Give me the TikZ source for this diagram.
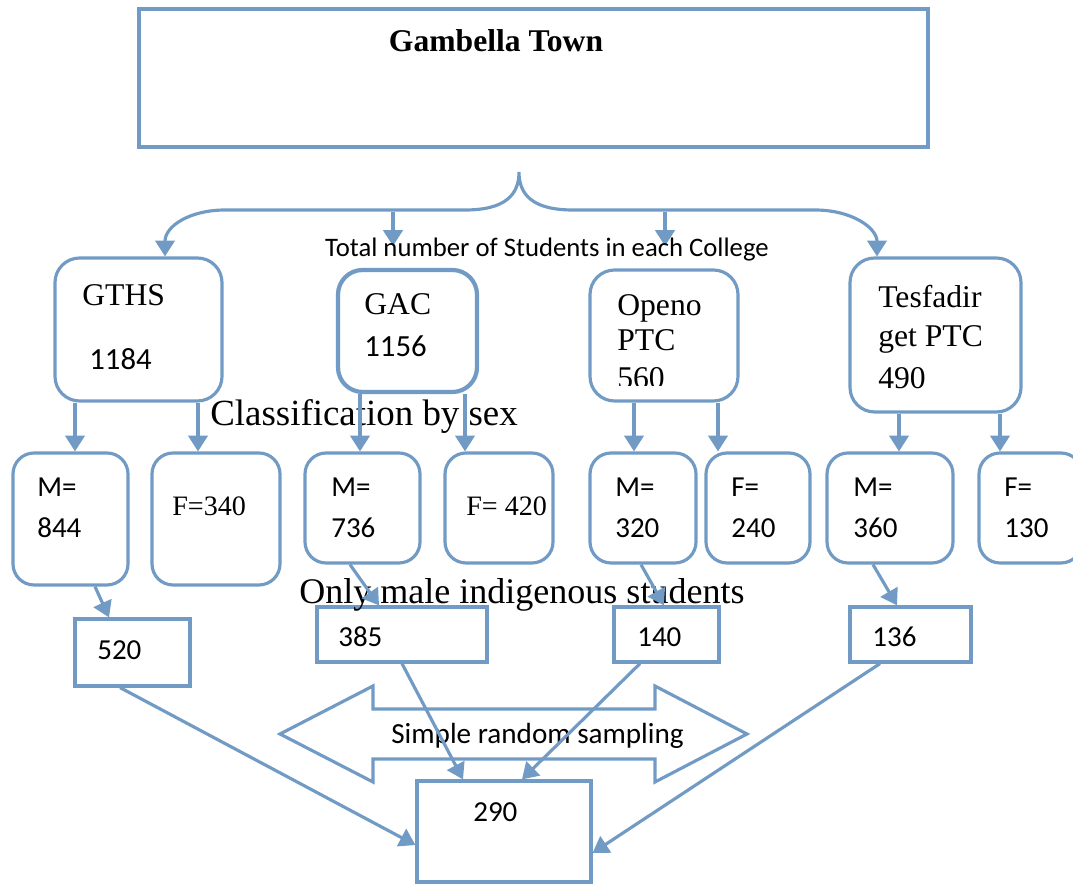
\documentclass[tikz,border=0pt]{standalone}
\usepackage{fontspec}
\setmainfont{Liberation Serif}
\newfontfamily\calib{Carlito}
\usetikzlibrary{arrows.meta}
\usetikzlibrary{fit}
\usetikzlibrary{calc}
\usepackage{xcolor}
\definecolor{boxblue}{RGB}{113,155,196}

\tikzset{
  rbox/.style={draw=boxblue, line width=1.8pt, rounded corners=12pt, inner sep=0pt},
  sbox/.style={draw=boxblue, line width=1.8pt, inner sep=0pt},
  arr/.style={draw=boxblue, line width=1.8pt, -{Triangle[width=11pt,length=9pt]}},
  tnr/.style={inner sep=0pt, anchor=west, text height=11.9pt, text depth=0pt, font=\fontsize{18}{20}\selectfont},
  tnrs/.style={inner sep=0pt, anchor=west, text height=10.6pt, text depth=0pt, font=\fontsize{16}{18}\selectfont},
  cal/.style={inner sep=0pt, anchor=west, text height=10.6pt, text depth=0pt, font=\calib\fontsize{16.5}{18}\selectfont},
  calb/.style={inner sep=0pt, anchor=west, text height=11.3pt, text depth=0pt, font=\calib\fontsize{17.5}{19}\selectfont},
}

\begin{document}
\begin{tikzpicture}[x=0.02cm, y=-0.02cm]

      \useasboundingbox (0,0) rectangle (1073,884);

      % Town
      \node[sbox, fit={(139,9) (928,147)}] (town) {};
      \node[inner sep=0pt, text height=11.9pt, text depth=0pt, font=\bfseries\fontsize{18}{20}\selectfont] (townname) at (496,41) {Gambella Town};

      % Colleges
      \node[rbox, rounded corners=14pt, fit={(55,258) (222,401)}] (gths) {};
      \node[rbox, rounded corners=14pt, line width=2.4pt, fit={(338,270) (477,392)}] (gac) {};
      \node[rbox, rounded corners=14pt, fit={(590,270) (738,401)}] (openo) {};
      \node[rbox, rounded corners=14pt, fit={(850,258) (1021,412)}] (tesf) {};

      \node[tnr] (gthsname) at (82,295) {GTHS};
      \node[calb] (gthsnum) at (89,360) {1184};
      \node[tnr] (gacname) at (364,304) {GAC};
      \node[calb] (gacnum) at (364,347) {1156};
      \node[tnr] (openoname) at (617,305) {Openo};
      \node[tnr] (openoptc) at (617,340) {PTC};
      \begin{scope}
        \clip (590,270) rectangle (738,386);
        \node[tnr] (openonum) at (617,378) {560};
      \end{scope}
      \node[tnr] (tesfname) at (878,297) {Tesfadir};
      \node[tnr] (tesfptc) at (878,336) {get PTC};
      \node[tnr] (tesfnum) at (878,378) {490};

      % Brace
      \draw[arr, {Triangle[width=11pt,length=9pt]}-{Triangle[width=11pt,length=9pt]}]
        (gths.north -| 165,0) .. controls (165,226) and (190,210) .. (225,210)
        -- (465,210) .. controls (505,210) and (519,195) .. (519,172)
        .. controls (519,195) and (533,210) .. (573,210)
        -- (815,210) .. controls (852,210) and (877,228) .. (tesf.north -| 877,0);
      \coordinate (b1) at (393,212);
      \coordinate (b1e) at (393,246);
      \coordinate (b2) at (665,212);
      \coordinate (b2e) at (665,246);
      \draw[arr] (b1) -- (b1e);
      \draw[arr] (b2) -- (b2e);
      \node[inner sep=0pt, font=\calib\fontsize{15.2}{17}\selectfont] (total) at (547,250) {Total number of Students in each College};

      % Sex
      \foreach \n/\l/\r/\b in {m1/13/128/585, f1/152/280/585, m2/305/420/563, f2/445/553/563,
                               m3/590/696/563, f3/706/810/563, m4/827/953/563, f4/979/1082/563}
      {
        \node[rbox, fit={(\l,453) (\r,\b)}] (\n) {};
      }
      \node[inner sep=0pt, anchor=west, text height=13.9pt, text depth=0pt, font=\fontsize{21}{23}\selectfont] (sexlabel) at (210,413) {Classification by sex};

      \foreach \a/\b/\x in {gths/m1/75, gths/f1/198, gac/m2/360, gac/f2/465,
                            openo/m3/634, openo/f3/718, tesf/m4/899, tesf/f4/1000}
      {
        \draw[arr] (\a.south -| \x,0) -- (\b.north -| \x,0);
      }

      \node[cal] (m1a) at (37,487) {M=};
      \node[cal] (m1b) at (37,528) {844};
      \node[tnrs] (f1a) at (172,506) {F=340};
      \node[cal] (m2a) at (331,487) {M=};
      \node[cal] (m2b) at (331,528) {736};
      \node[tnrs] (f2a) at (466,506) {F= 420};
      \node[cal] (m3a) at (615,487) {M=};
      \node[cal] (m3b) at (615,528) {320};
      \node[cal] (f3a) at (731,487) {F=};
      \node[cal] (f3b) at (731,528) {240};
      \node[cal] (m4a) at (853,487) {M=};
      \node[cal] (m4b) at (853,528) {360};
      \node[cal] (f4a) at (1004,487) {F=};
      \node[cal] (f4b) at (1004,528) {130};

      % Indigenous
      \node[sbox, fit={(75,619) (190,686)}] (r520) {};
      \node[sbox, fit={(317,607) (487,662)}] (r385) {};
      \node[sbox, fit={(614,607) (719,662)}] (r140) {};
      \node[sbox, fit={(850,607) (971,662)}] (r136) {};
      \node[cal] (n520) at (97,650) {520};
      \node[cal] (n385) at (338,637) {385};
      \node[cal] (n140) at (637,637) {140};
      \node[cal] (n136) at (872,637) {136};

      \node[inner sep=0pt, anchor=west, text height=13.5pt, text depth=0pt, font=\fontsize{20.5}{23}\selectfont] (malelabel) at (299,592) {Only male indigenous students};

      \draw[arr] (m1.south -| 95,0) -- (r520.north -| 109,0);
      \draw[arr] (m2.south -| 350,0) -- (r385.north -| 379,0);
      \draw[arr] (m3.south -| 641,0) -- (r140.north -| 664,0);
      \draw[arr] (m4.south -| 873,0) -- (r136.north -| 897,0);

      % Sampling
      \draw[draw=boxblue, line width=1.8pt] (280,734) -- (373,686) -- (373,709) -- (655,709) -- (655,686)
        -- (747,734) -- (655,782) -- (655,759) -- (373,759) -- (373,782) -- cycle;
      \node[inner sep=0pt, anchor=west, text height=10.6pt, text depth=0pt, font=\calib\fontsize{16.6}{18}\selectfont] (srs) at (391,734) {Simple random sampling};

      \node[sbox, fit={(417,781) (591,882)}] (final) {};
      \node[cal] (n290) at (473,812) {290};

      \draw[arr] (r520.south -| 120,0) -- (final.west |- 0,845);
      \draw[arr] (r385.south -| 402,0) -- (final.north -| 463,0);
      \draw[arr] (r140.south -| 640,0) -- (final.north -| 522,0);
      \draw[arr] (r136.south -| 880,0) -- (final.east |- 0,853);

\end{tikzpicture}
\end{document}
